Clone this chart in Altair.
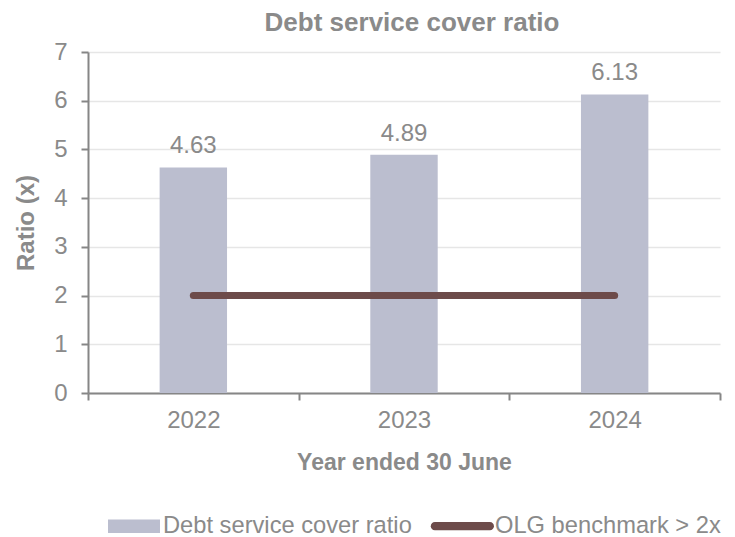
import altair as alt
import pandas as pd

years = ["2022", "2023", "2024"]
dscr = [4.63, 4.89, 6.13]
benchmark = [2, 2, 2]
bar_name = "Debt service cover ratio"
line_name = "OLG benchmark > 2x"

df = pd.DataFrame({
    "year": years,
    "dscr": dscr,
    "bench": benchmark,
    "label": [f"{v:.2f}" for v in dscr],
    "s_bar": [bar_name] * 3,
    "s_line": [line_name] * 3,
})

GRAY = "#8a8a8a"
FONT = "Liberation Sans"

color_scale = alt.Scale(domain=[bar_name, line_name], range=["#bbbecf", "#6d4b4a"])
x_scale = alt.Scale(paddingInner=0, paddingOuter=0)
y_scale = alt.Scale(domain=[0, 7], nice=False)
y_axis = alt.Axis(values=[0, 1, 2, 3, 4, 5, 6, 7], labelPadding=14, titlePadding=15)
x_axis = alt.Axis(labelAngle=0, tickBand="extent", labelPadding=8, titlePadding=19)

bar_shape = "M-1,-0.26L1,-0.26L1,0.26L-1,0.26Z"
line_shape = ("M-1.2,-0.155L0.92,-0.155A0.155,0.155 0 0 1 0.92,0.155"
              "L-1.2,0.155A0.155,0.155 0 0 1 -1.2,-0.155Z")
shape_expr = f"datum.label === '{line_name}' ? '{line_shape}' : '{bar_shape}'"

base = alt.Chart(df)

bars = base.mark_bar(width=alt.RelativeBandSize(0.32)).encode(
    x=alt.X("year:N", title="Year ended 30 June", scale=x_scale, axis=x_axis),
    y=alt.Y("dscr:Q", title="Ratio (x)", scale=y_scale, axis=y_axis),
    color=alt.Color("s_bar:N", scale=color_scale, title=None,
                    legend=alt.Legend(
                        orient="none", legendX=20, legendY=448,
                        direction="horizontal",
                        symbolType=alt.ExprRef(shape_expr),
                        symbolSize=2704, symbolStrokeWidth=0,
                        labelFont=FONT, labelFontSize=23.7, labelColor=GRAY,
                        labelOffset=3, columnPadding=18,
                        labelLimit=400,
                    )),
)

labels = base.mark_text(baseline="bottom", dy=-9, fontSize=24, font=FONT,
                        color=GRAY).encode(
    x=alt.X("year:N", title="Year ended 30 June", scale=x_scale, axis=x_axis),
    y=alt.Y("dscr:Q", title="Ratio (x)", scale=y_scale, axis=y_axis),
    text="label:N",
)

line = base.mark_line(strokeWidth=7, strokeCap="round").encode(
    x=alt.X("year:N", title="Year ended 30 June", scale=x_scale, axis=x_axis),
    y=alt.Y("bench:Q", title="Ratio (x)", scale=y_scale, axis=y_axis),
    color=alt.Color("s_line:N", scale=color_scale),
)

chart = alt.layer(bars, line, labels).properties(
    width=632,
    height=341,
    autosize=alt.AutoSizeParams(type="none"),
    padding={"left": 88, "top": 52, "right": 15, "bottom": 144},
    title=alt.TitleParams("Debt service cover ratio", font=FONT, fontSize=26,
                          fontWeight="bold", color=GRAY, anchor="middle",
                          offset=4, dx=8),
).configure_view(stroke=None).configure_axis(
    labelFont=FONT, titleFont=FONT, labelFontSize=24, titleFontSize=23,
    labelColor=GRAY, titleColor=GRAY, titleFontWeight="bold",
    domainColor="#868686", domainWidth=2, tickColor="#868686", tickWidth=2,
    tickSize=7, gridColor="#e6e6e6", gridWidth=1.5,
).configure_axisX(grid=False).configure_axisY(grid=True, titleFontSize=24)

chart.save("out.html", embed_options={"renderer": "svg", "actions": False})
